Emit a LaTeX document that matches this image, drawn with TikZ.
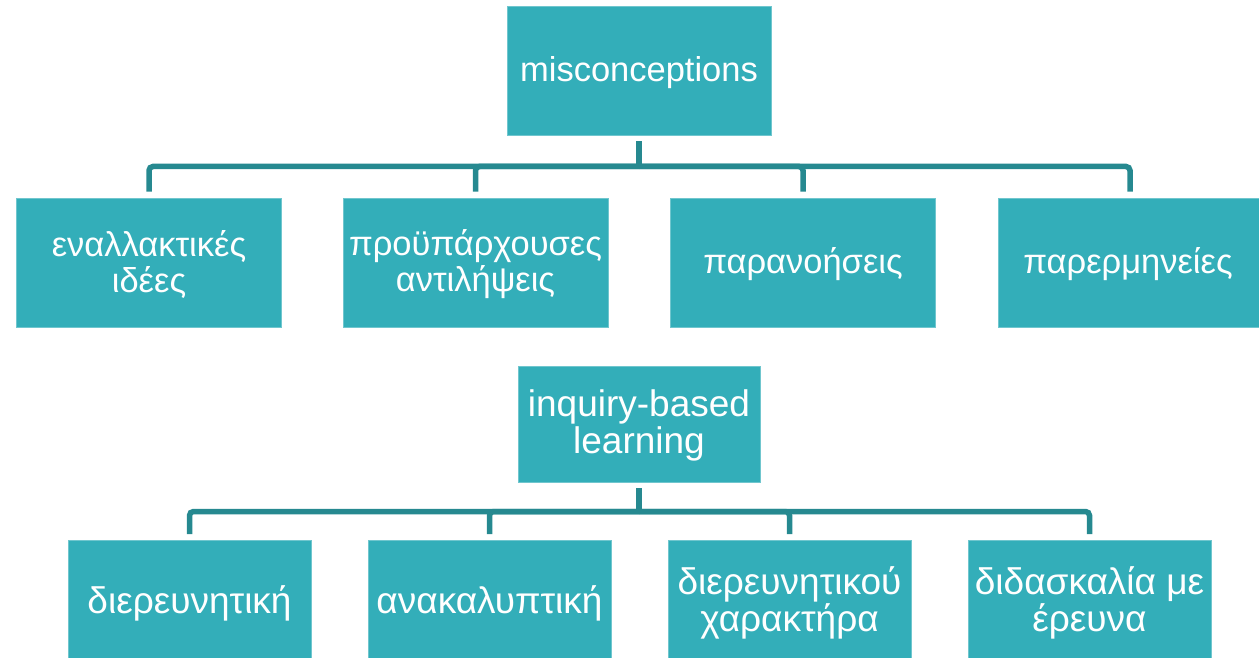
\documentclass[tikz,border=0pt]{standalone}
\usepackage{fontspec}
\setmainfont{Liberation Sans}
\usetikzlibrary{calc}
\definecolor{boxfill}{RGB}{51,174,185}
\definecolor{linecol}{RGB}{38,137,144}
\begin{document}
\begin{tikzpicture}[x=1pt,y=-1pt,
  tbox/.style={fill=boxfill,draw=boxfill!70!white,line width=0.6pt,inner sep=0pt},
  lbl/.style={text=white,align=center,inner sep=0pt,font=\fontsize{34.5}{36}\selectfont},
  glbl/.style={lbl,font=\fontsize{37}{37}\selectfont},
  conn/.style={draw=linecol,line width=5.5pt,rounded corners=4pt}]
\useasboundingbox (0,0) rectangle (1259,658);
% top
\node[tbox,minimum width=264pt,minimum height=129pt,label={[lbl,yshift=-2pt]center:misconceptions}] (m) at (639,70.5) {};
\node[tbox,minimum width=265pt,minimum height=129pt,label={[lbl,yshift=-2pt]center:εναλλακτικές\\ιδέες}] (a1) at (149,262.5) {};
\node[tbox,minimum width=265pt,minimum height=129pt,label={[lbl,yshift=-2pt]center:προϋπάρχουσες\\αντιλήψεις}] (a2) at (475.5,262.5) {};
\node[tbox,minimum width=265pt,minimum height=129pt,label={[lbl,yshift=-2pt]center:παρανοήσεις}] (a3) at (803,262.5) {};
\node[tbox,minimum width=264pt,minimum height=129pt,label={[lbl,yshift=-2pt,xshift=-2pt]center:παρερμηνείες}] (a4) at (1130,262.5) {};
\coordinate (j1) at (639,166.5);
\draw[conn] ($(m.south)+(0,6)$) -- (j1);
\foreach \c in {a1,a2,a3,a4}{
  \draw[conn] (j1) -| ($(\c.north)+(0,-6)$);
}
% bottom
\node[tbox,minimum width=242pt,minimum height=116pt,label={[glbl,yshift=-1pt]center:inquiry-based\\learning}] (q) at (639,424) {};
\node[tbox,minimum width=243pt,minimum height=118pt,anchor=north,label={[glbl,yshift=-4pt]center:διερευνητική}] (b1) at (189.5,540) {};
\node[tbox,minimum width=243pt,minimum height=118pt,anchor=north,label={[glbl,yshift=-4pt]center:ανακαλυπτική}] (b2) at (489.5,540) {};
\node[tbox,minimum width=243pt,minimum height=118pt,anchor=north,label={[glbl,yshift=-4pt]center:διερευνητικού\\χαρακτήρα}] (b3) at (789.5,540) {};
\node[tbox,minimum width=243pt,minimum height=118pt,anchor=north,label={[glbl,yshift=-4pt]center:διδασκαλία με\\έρευνα}] (b4) at (1089.5,540) {};
\coordinate (j2) at (639,511.5);
\draw[conn] ($(q.south)+(0,6)$) -- (j2);
\foreach \c in {b1,b2,b3,b4}{
  \draw[conn] (j2) -| ($(\c.north)+(0,-6)$);
}
\end{tikzpicture}
\end{document}
